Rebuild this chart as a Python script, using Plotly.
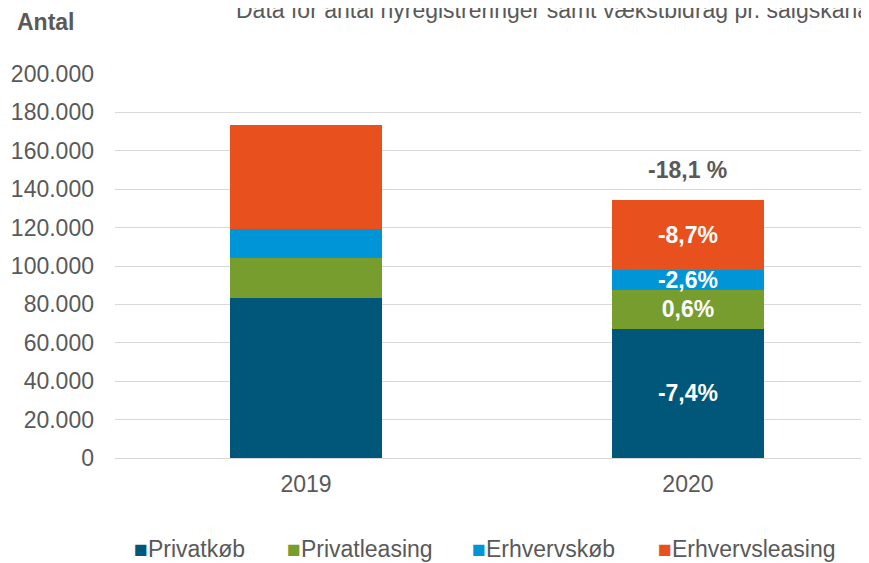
import plotly.graph_objects as go

years = ["2019", "2020"]
privatkob = [83300, 67200]
privatleasing = [20900, 20300]
erhvervskob = [15100, 10400]
erhvervsleasing = [54100, 36500]
labels_privatkob = ["", "-7,4%"]
labels_privatleasing = ["", "0,6%"]
labels_erhvervskob = ["", "-2,6%"]
labels_erhvervsleasing = ["", "-8,7%"]
total_label = "-18,1 %"
y_ticks = [0, 20000, 40000, 60000, 80000, 100000, 120000, 140000, 160000, 180000, 200000]
y_ticktext = ["0", "20.000", "40.000", "60.000", "80.000", "100.000", "120.000", "140.000", "160.000", "180.000", "200.000"]

FONT = "Liberation Sans, Arial"
GREY = "#595959"
FS = 23

series = [
    ("Privatkøb", privatkob, labels_privatkob, "#01577A"),
    ("Privatleasing", privatleasing, labels_privatleasing, "#789D2F"),
    ("Erhvervskøb", erhvervskob, labels_erhvervskob, "#0095D6"),
    ("Erhvervsleasing", erhvervsleasing, labels_erhvervsleasing, "#E8511E"),
]

fig = go.Figure()
for name, vals, labs, col in series:
    fig.add_trace(go.Bar(
        x=years, y=vals, name=name, marker=dict(color=col, line=dict(width=0)),
        width=0.4, text=labs, textposition="inside", insidetextanchor="middle",
        textangle=0, constraintext="none",
        textfont=dict(color="white", size=FS, family=FONT, weight="bold"),
        hoverinfo="skip", cliponaxis=False, showlegend=False,
    ))

total2020 = privatkob[1] + privatleasing[1] + erhvervskob[1] + erhvervsleasing[1]
fig.add_annotation(x=1, y=total2020, text="<b>" + total_label + "</b>", showarrow=False,
                   yanchor="bottom", yshift=15,
                   font=dict(size=FS, color=GREY, family=FONT))

# Axis/Chart titles
fig.add_annotation(xref="paper", yref="paper", x=-0.1326, y=1.0, yshift=52, xanchor="left", yanchor="middle",
                   text="<b>Antal</b>", showarrow=False,
                   font=dict(size=FS, color=GREY, family=FONT))
fig.add_annotation(xref="paper", yref="paper", x=0.158, y=1.0, yshift=64, xanchor="left", yanchor="middle",
                   text="Data for antal nyregistreringer samt vækstbidrag pr. salgskanal", showarrow=False,
                   font=dict(size=FS, color=GREY, family=FONT))

# Legend drawn as text
legend_x = [0.0225, 0.2255, 0.4708, 0.7175]
for (name, vals, labs, col), lx in zip(series, legend_x):
    fig.add_annotation(xref="paper", yref="paper", x=lx, y=0, yshift=-91, xanchor="left", yanchor="middle",
                       text=f"<span style='color:{col}'>■</span>{name}", showarrow=False,
                       font=dict(size=FS, color=GREY, family=FONT))

fig.update_layout(
    width=861, height=555,
    margin=dict(l=107, r=0, t=66, b=105),
    barmode="stack",
    plot_bgcolor="white", paper_bgcolor="white",
    font=dict(family=FONT, color=GREY, size=FS),
    showlegend=False,
    xaxis=dict(type="category", range=[-0.5, 1.474], showgrid=False, showline=False,
               ticks="", tickfont=dict(size=FS, color=GREY), ticklabelstandoff=10),
    yaxis=dict(range=[0, 200000], tickvals=y_ticks, ticktext=y_ticktext,
               showgrid=True, gridcolor="#D9D9D9", gridwidth=1.3, zeroline=True,
               zerolinecolor="#D9D9D9", zerolinewidth=1.3, showline=False, ticks="",
               tickfont=dict(size=FS, color=GREY), ticklabelstandoff=20),
)

fig.write_html("out.html")
